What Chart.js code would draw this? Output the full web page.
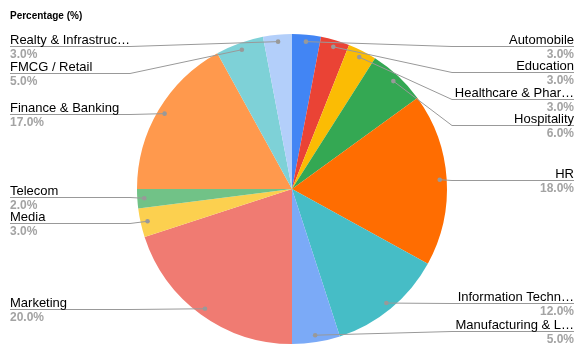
<!DOCTYPE html>
<html>
<head>
<meta charset="utf-8">
<script src="https://cdn.jsdelivr.net/npm/chart.js@4"></script>
<style>
  html, body { margin: 0; padding: 0; background: #fff; }
  #wrap { width: 581px; height: 361px; }
</style>
</head>
<body>
<div id="wrap"><canvas id="pieChart" width="581" height="361"></canvas></div>
<script>
// ---- data ----
const chartTitle = "Percentage (%)";
const categories = [
  "Automobile", "Education", "Healthcare & Phar…", "Hospitality", "HR",
  "Information Techn…", "Manufacturing & L…", "Marketing", "Media", "Telecom",
  "Finance & Banking", "FMCG / Retail", "Realty & Infrastruc…"
];
const percentages = [3, 3, 3, 6, 18, 12, 5, 20, 3, 2, 17, 5, 3];
const sliceColors = [
  "#4285F4", "#EA4335", "#FBBC04", "#34A853", "#FF6D01", "#46BDC6", "#7BAAF7",
  "#F07B72", "#FCD04F", "#71C287", "#FF994D", "#7ED1D7", "#B3CFFA"
];

// ---- labels outside with leader lines ----
const FONT = "'Liberation Sans', Arial, sans-serif";
const LINE_COLOR = "#999999";

// spread label rows so they don't overlap (kept near the dot height)
function spreadLabels(items, gap, minY, maxY) {
  items.sort((a, b) => a.dotY - b.dotY);
  items.forEach(it => (it.y = Math.min(Math.max(it.dotY, minY), maxY)));
  for (let k = 0; k < 200; k++) {
    for (let i = 1; i < items.length; i++) {
      const d = items[i].y - items[i - 1].y;
      if (d < gap) {
        const push = (gap - d) / 2;
        items[i - 1].y -= push;
        items[i].y += push;
      }
    }
    items.forEach(it => (it.y = Math.min(Math.max(it.y, minY), maxY)));
  }
}

const outsideLabels = {
  id: "outsideLabels",
  afterDraw(chart) {
    const ctx = chart.ctx;
    const meta = chart.getDatasetMeta(0);
    const left = [], right = [];

    meta.data.forEach((arc, i) => {
      const mid = (arc.startAngle + arc.endAngle) / 2;
      const r = arc.outerRadius * 0.955;
      const item = {
        i,
        cx: arc.x,
        R: arc.outerRadius,
        dotX: arc.x + Math.cos(mid) * r,
        dotY: arc.y + Math.sin(mid) * r
      };
      (Math.cos(mid) >= 0 ? right : left).push(item);
    });

    spreadLabels(right, 26.5, 46, 331);
    spreadLabels(left, 26.5, 46, 331);

    const drawSide = (items, isRight) => {
      items.forEach(it => {
        const edgeX = isRight ? 574 : 10;
        const kneeX = isRight ? it.cx + it.R + 5 : it.cx - it.R - 7;
        const y = Math.round(it.y) + 0.5;

        ctx.save();
        ctx.strokeStyle = LINE_COLOR;
        ctx.lineWidth = 1;
        ctx.beginPath();
        ctx.moveTo(it.dotX, it.dotY);
        ctx.lineTo(kneeX, y);
        ctx.lineTo(edgeX, y);
        ctx.stroke();

        ctx.fillStyle = LINE_COLOR;
        ctx.beginPath();
        ctx.arc(it.dotX, it.dotY, 2.3, 0, Math.PI * 2);
        ctx.fill();

        ctx.textAlign = isRight ? "right" : "left";
        ctx.textBaseline = "alphabetic";
        ctx.fillStyle = "#000000";
        ctx.font = "13px " + FONT;
        ctx.fillText(categories[it.i], edgeX, y - 3);

        ctx.fillStyle = "#a3a3a3";
        ctx.font = "bold 12px " + FONT;
        ctx.fillText(percentages[it.i].toFixed(1) + "%", edgeX, y + 11);
        ctx.restore();
      });
    };
    drawSide(right, true);
    drawSide(left, false);

    // title
    ctx.save();
    ctx.fillStyle = "#000000";
    ctx.font = "bold 10px " + FONT;
    ctx.textAlign = "left";
    ctx.textBaseline = "alphabetic";
    ctx.fillText(chartTitle, 10, 19);
    ctx.restore();
  }
};

new Chart(document.getElementById("pieChart"), {
  type: "pie",
  data: {
    labels: categories,
    datasets: [{
      data: percentages,
      backgroundColor: sliceColors,
      borderWidth: 0
    }]
  },
  options: {
    responsive: false,
    animation: false,
    layout: { padding: { top: 34, bottom: 17, left: 100, right: 97 } },
    plugins: {
      legend: { display: false },
      tooltip: { enabled: false }
    }
  },
  plugins: [outsideLabels]
});
</script>
</body>
</html>
